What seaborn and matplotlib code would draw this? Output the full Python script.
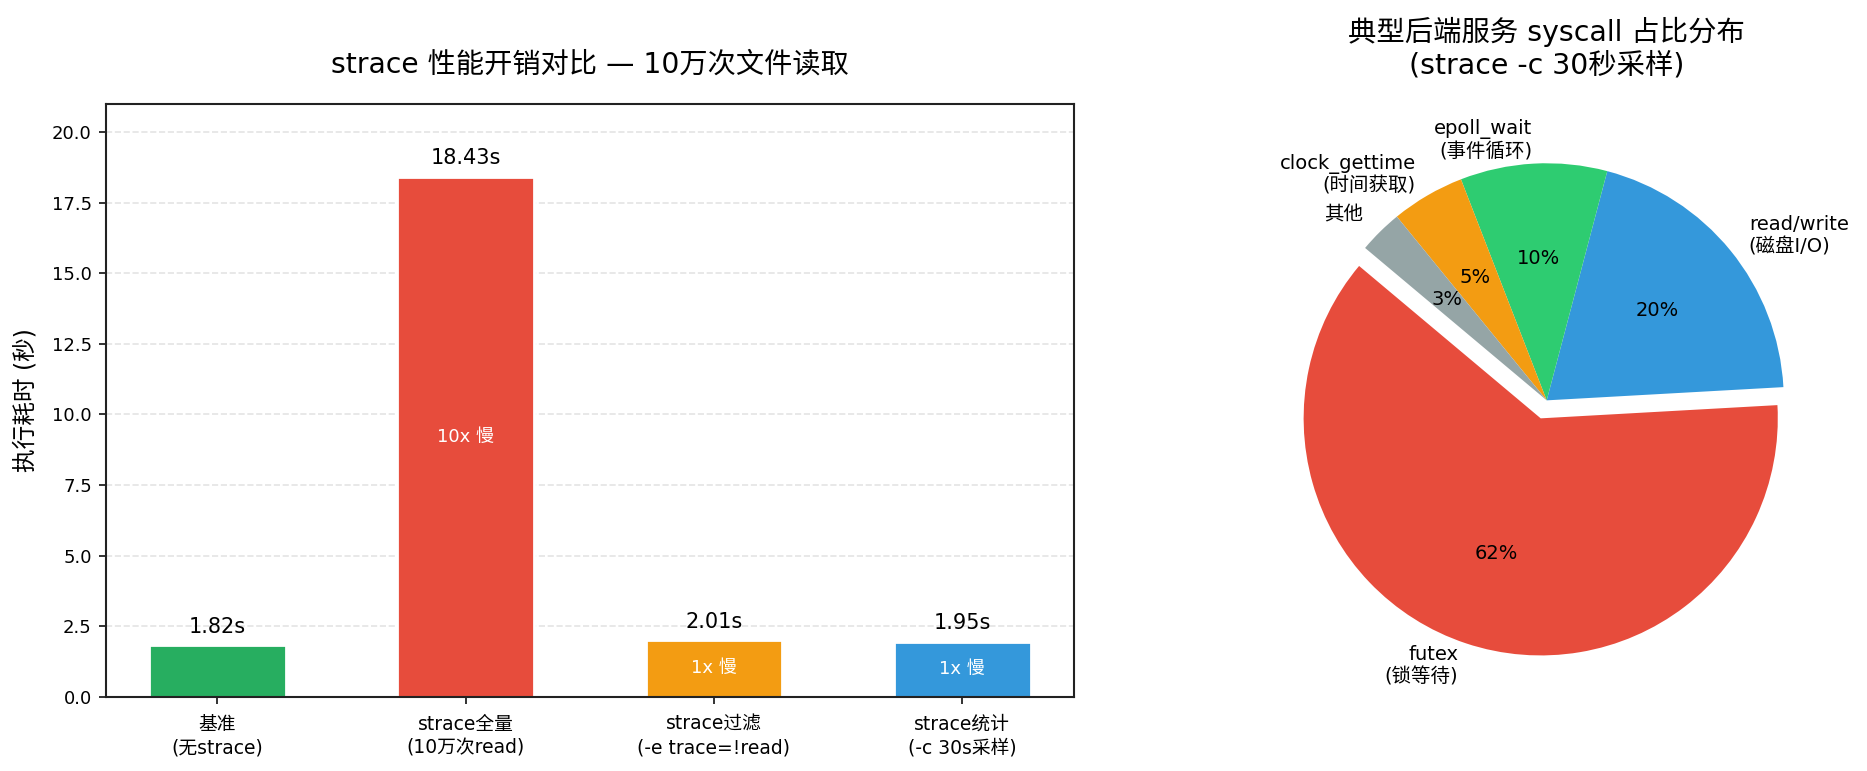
import matplotlib
matplotlib.use("Agg")
import matplotlib.pyplot as plt
import seaborn as sns
import pandas as pd

# bar chart data
categories = ['基准\n(无strace)', 'strace全量\n(10万次read)',
              'strace过滤\n(-e trace=!read)', 'strace统计\n(-c 30s采样)']
seconds = [1.82, 18.43, 2.01, 1.95]
value_labels = ['1.82s', '18.43s', '2.01s', '1.95s']
slow_labels = ['', '10x 慢', '1x 慢', '1x 慢']
bar_colors = ['#27ae60', '#e74c3c', '#f39c12', '#3498db']
y_ticks = [0, 2.5, 5, 7.5, 10, 12.5, 15, 17.5, 20]

# pie chart data
syscalls = ['futex\n(锁等待)', 'read/write\n(磁盘I/O)', 'epoll_wait\n(事件循环)',
            'clock_gettime\n(时间获取)', '其他']
shares = [62, 20, 10, 5, 3]
pie_colors = ['#e74c3c', '#3498db', '#2ecc71', '#f39c12', '#95a5a6']
explode = [0.08, 0, 0, 0, 0]

sns.set_style('ticks')
plt.rcParams['font.family'] = ['DejaVu Sans', 'Noto Sans CJK SC']
plt.rcParams['axes.unicode_minus'] = False
plt.rcParams['text.color'] = 'black'
plt.rcParams['axes.labelcolor'] = 'black'
plt.rcParams['xtick.labelcolor'] = 'black'
plt.rcParams['ytick.labelcolor'] = 'black'

W, H = 1867, 771
fig = plt.figure(figsize=(W / 100, H / 100), dpi=100)


def px_rect(x0, y0, x1, y1):
    return [x0 / W, 1 - y1 / H, (x1 - x0) / W, (y1 - y0) / H]


ax1 = fig.add_axes(px_rect(105.7, 104, 1074, 696.7))
ax2 = fig.add_axes(px_rect(1546.7 - 298, 104, 1546.7 + 298, 696.7))

# --- left: bar chart
df = pd.DataFrame({'cat': categories, 'sec': seconds})
sns.barplot(data=df, x='cat', y='sec', hue='cat', palette=bar_colors,
            saturation=1, legend=False, width=0.55, edgecolor='white',
            linewidth=2, ax=ax1)
ax1.set_xlim(-0.45, 3.45)
ax1.set_ylim(0, 21)
ax1.set_yticks(y_ticks)
ax1.set_yticklabels([f'{v:.1f}' for v in y_ticks])
ax1.yaxis.grid(True, linestyle='--', color='#dddddd', linewidth=1.2, alpha=0.8)
ax1.set_axisbelow(True)
ax1.set_xlabel('')
ax1.set_ylabel('执行耗时 (秒)', fontsize=17, labelpad=10)
ax1.set_title('strace 性能开销对比 — 10万次文件读取', fontsize=20.3, pad=23)
ax1.tick_params(axis='both', labelsize=13, length=5, width=1.3,
                direction='out', color='#222222', pad=5)
ax1.tick_params(axis='x', labelsize=13.5, pad=8)
for t in ax1.get_xticklabels():
    t.set_linespacing(1.3)
for sp in ax1.spines.values():
    sp.set_linewidth(1.5)
    sp.set_color('#222222')

for i, (v, lab, slow) in enumerate(zip(seconds, value_labels, slow_labels)):
    ax1.text(i, v + 0.3, lab, ha='center', va='bottom', fontsize=15)
    if slow:
        ax1.text(i, v / 2, slow, ha='center', va='center', fontsize=13,
                 color='white')

# --- right: pie chart
wedges, texts, autotexts = ax2.pie(shares, labels=syscalls, colors=pie_colors,
                                   explode=explode, startangle=140,
                                   autopct='%1.0f%%', pctdistance=0.6,
                                   wedgeprops={'linewidth': 0},
                                   textprops={'fontsize': 14})
ax2.set_title('典型后端服务 syscall 占比分布\n(strace -c 30秒采样)',
              fontsize=20.4, pad=22)

fig.savefig('out.png', dpi=100)
